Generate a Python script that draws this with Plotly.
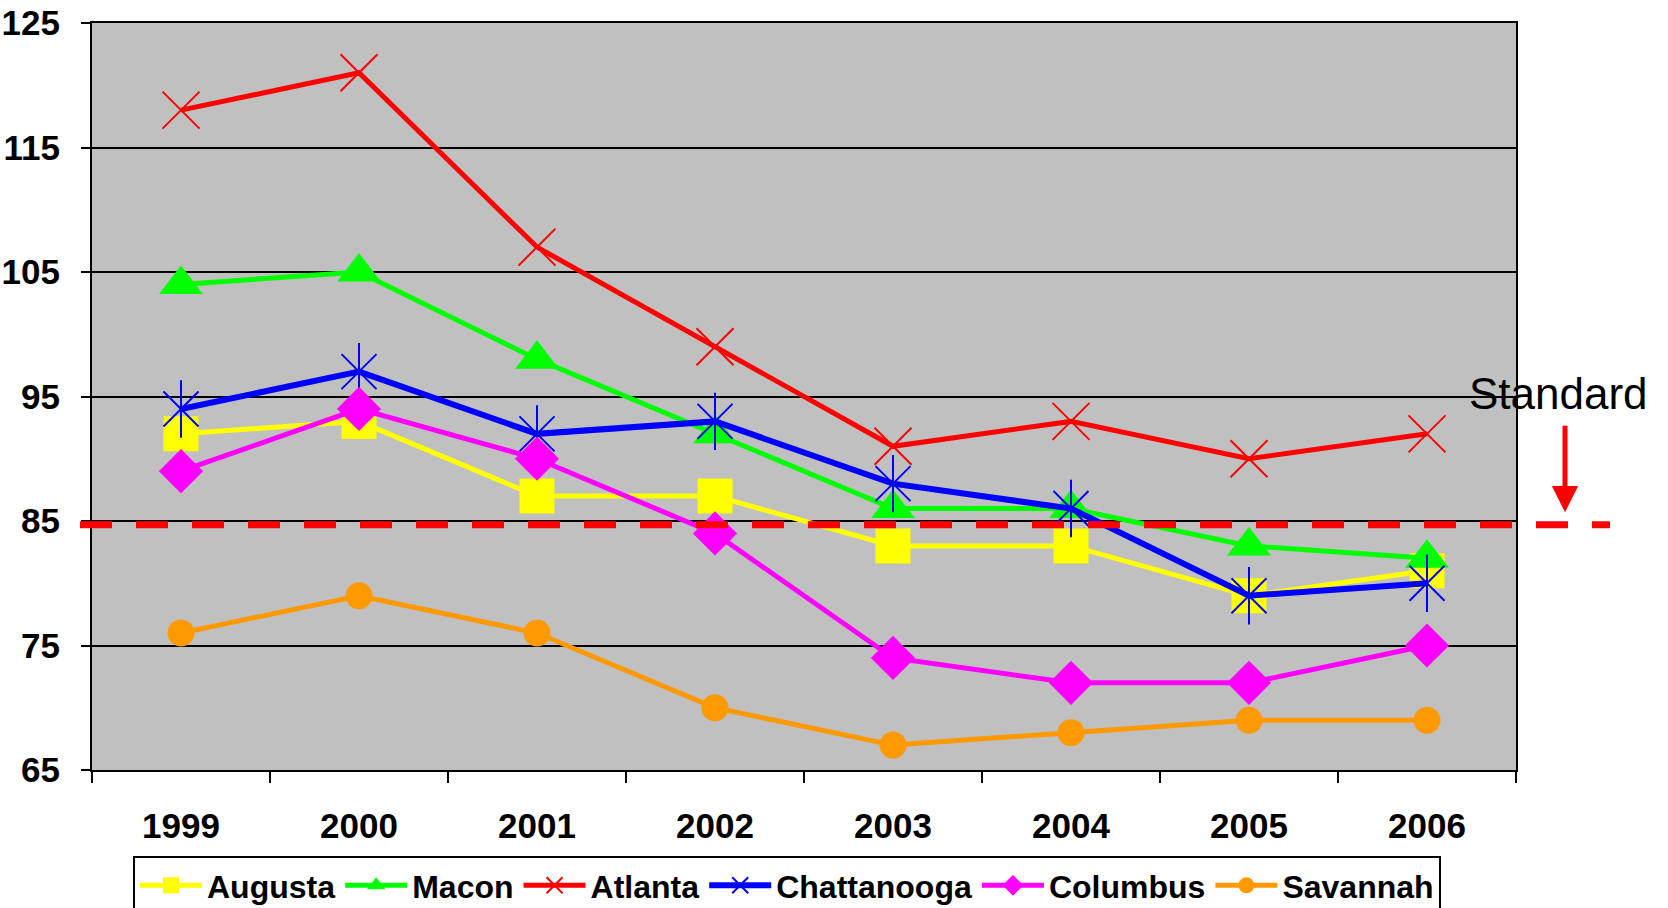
import plotly.graph_objects as go

# Ozone design values by metro area, 1999-2006
years = ["1999", "2000", "2001", "2002", "2003", "2004", "2005", "2006"]
augusta = [92, 93, 87, 87, 83, 83, 79, 81]
macon = [104, 105, 98, 92, 86, 86, 83, 82]
atlanta = [118, 121, 107, 99, 91, 93, 90, 92]
chattanooga = [94, 97, 92, 93, 88, 86, 79, 80]
columbus = [89, 94, 90, 84, 74, 72, 72, 75]
savannah = [76, 79, 76, 70, 67, 68, 69, 69]

standard_level = 84.7
y_ticks = [65, 75, 85, 95, 105, 115, 125]

W, H = 1668, 908
L, R, T, B = 92, 152, 23, 138
PW, PH = W - L - R, H - T - B

ARIAL = "Liberation Sans, Arial, sans-serif"

fig = go.Figure()


def add_series(name, values, color, symbol, size, lw=5, mlw=0, showlegend=True):
    fig.add_trace(go.Scatter(
        x=years, y=values, name=name, mode="lines+markers",
        line=dict(color=color, width=lw),
        marker=dict(symbol=symbol, size=size, color=color,
                    line=dict(color=color, width=mlw)),
        showlegend=showlegend, legendgroup=name,
    ))


add_series("Augusta", augusta, "#FFFF00", "square", 35)
add_series("Macon", macon, "#00FF00", "triangle-up", 38)
add_series("Atlanta", atlanta, "#FF0000", "x-thin-open", 37, mlw=2)
add_series("Chattanooga", chattanooga, "#0000FF", "x-thin-open", 35, lw=6, mlw=2)
# vertical stroke of the star marker
fig.add_trace(go.Scatter(
    x=years, y=chattanooga, mode="markers", showlegend=False,
    legendgroup="Chattanooga", hoverinfo="skip",
    marker=dict(symbol="line-ns-open", size=41, color="#0000FF",
                line=dict(color="#0000FF", width=2)),
))
add_series("Columbus", columbus, "#FF00FF", "diamond", 34)
add_series("Savannah", savannah, "#FF9900", "circle", 27)

# dashed standard line across the chart
fig.add_shape(
    type="line", xref="paper", yref="y",
    x0=(80 - L) / PW, x1=(1610 - L) / PW,
    y0=standard_level, y1=standard_level,
    line=dict(color="#FF0000", width=7, dash="32px,24px"),
    layer="above",
)

fig.add_annotation(
    xref="paper", yref="paper", x=(1558 - L) / PW, y=(H - B - 393) / PH,
    text="Standard", showarrow=False, xanchor="center", yanchor="middle",
    font=dict(family=ARIAL, size=44, color="black"),
)
fig.add_annotation(
    xref="paper", yref="y", x=(1565 - L) / PW, y=standard_level + 1.0,
    text="", showarrow=True, ax=0, ay=-88, axref="pixel", ayref="pixel",
    arrowhead=2, arrowsize=1.05, arrowwidth=5, arrowcolor="#FF0000",
)

fig.update_layout(
    width=W, height=H,
    margin=dict(l=L, r=R, t=T, b=B, autoexpand=False),
    paper_bgcolor="white",
    plot_bgcolor="#C0C0C0",
    showlegend=True,
    legend=dict(
        orientation="h", x=(133 - L) / PW, y=-(856 - (H - B)) / PH,
        xanchor="left", yanchor="top",
        bgcolor="white", bordercolor="black", borderwidth=2,
        font=dict(family=ARIAL, size=32, color="black", weight="bold"),
        itemwidth=62, traceorder="normal",
    ),
)

fig.update_xaxes(
    type="category", range=[-0.5, 7.5],
    showgrid=False, showline=True, linecolor="black", linewidth=2,
    mirror=True,
    ticks="outside", tickson="boundaries", ticklen=11, tickwidth=1.5,
    tickcolor="black", ticklabelstandoff=24,
    tickfont=dict(family=ARIAL, size=35, color="black", weight="bold"),
)
fig.update_yaxes(
    range=[65, 125], tickvals=y_ticks,
    showgrid=True, gridcolor="black", gridwidth=1.5,
    showline=True, linecolor="black", linewidth=2, mirror=True,
    ticks="outside", ticklen=9, tickwidth=1.5, tickcolor="black",
    ticklabelstandoff=14, zeroline=False,
    tickfont=dict(family=ARIAL, size=35, color="black", weight="bold"),
)

fig.write_html("out.html")
